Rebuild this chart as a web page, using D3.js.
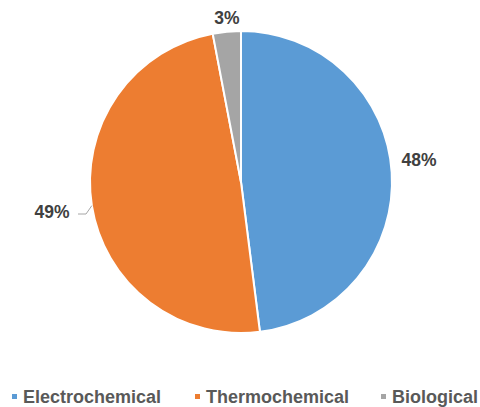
<!DOCTYPE html>
<html>
<head>
<meta charset="utf-8">
<script src="https://cdn.jsdelivr.net/npm/d3@7"></script>
<style>
  html, body { margin: 0; padding: 0; background: #fff; }
  svg { display: block; font-family: "Liberation Sans", Arial, sans-serif; }
</style>
</head>
<body>
<svg id="chart" width="480" height="407"></svg>
<script>
// Share of production routes
const categories = ["Electrochemical", "Thermochemical", "Biological"];
const shares = [48, 49, 3];
const colors = ["#5B9BD5", "#ED7D31", "#A5A5A5"];

const svg = d3.select("#chart");
const cx = 241, cy = 182, radius = 151;

const pie = d3.pie().sort(null).value(d => d.value);
const arcs = pie(categories.map((c, i) => ({ name: c, value: shares[i] })));
const arc = d3.arc().innerRadius(0).outerRadius(radius);

const g = svg.append("g").attr("transform", `translate(${cx},${cy})`);

g.selectAll("path.slice")
  .data(arcs)
  .join("path")
  .attr("class", "slice")
  .attr("d", arc)
  .attr("fill", (d, i) => colors[i])
  .attr("stroke", "#fff")
  .attr("stroke-width", 2)
  .attr("stroke-linejoin", "round");

// Data labels placed outside each slice
const labelPos = [
  { x: 419 - cx, y: 160 - cy },
  { x: 52 - cx, y: 212 - cy },
  { x: 227 - cx, y: 18 - cy }
];

g.selectAll("text.label")
  .data(arcs)
  .join("text")
  .attr("class", "label")
  .attr("x", (d, i) => labelPos[i].x)
  .attr("y", (d, i) => labelPos[i].y)
  .attr("text-anchor", "middle")
  .attr("dominant-baseline", "central")
  .attr("font-size", 17.5)
  .attr("font-weight", "bold")
  .attr("fill", "#404040")
  .text(d => d.data.value + "%");

// Leader line for the thermochemical label
const thermo = arcs[1];
const mid = (thermo.startAngle + thermo.endAngle) / 2;
const edge = [Math.sin(mid) * radius, -Math.cos(mid) * radius];
g.append("polyline")
  .attr("points", [[78 - cx, 214 - cy], [86 - cx, 214 - cy], edge].map(p => p.join(",")).join(" "))
  .attr("fill", "none")
  .attr("stroke", "#A6A6A6")
  .attr("stroke-width", 1);

// Legend
const legendX = [12, 195, 381];
const legend = svg.append("g").attr("transform", "translate(0,397)");
const items = legend.selectAll("g.item")
  .data(categories)
  .join("g")
  .attr("class", "item")
  .attr("transform", (d, i) => `translate(${legendX[i]},0)`);

items.append("rect")
  .attr("x", 0).attr("y", -3)
  .attr("width", 5).attr("height", 5)
  .attr("fill", (d, i) => colors[i]);

items.append("text")
  .attr("x", 11)
  .attr("y", 0)
  .attr("dominant-baseline", "central")
  .attr("font-size", 18)
  .attr("font-weight", "bold")
  .attr("fill", "#595959")
  .text(d => d);
</script>
</body>
</html>
